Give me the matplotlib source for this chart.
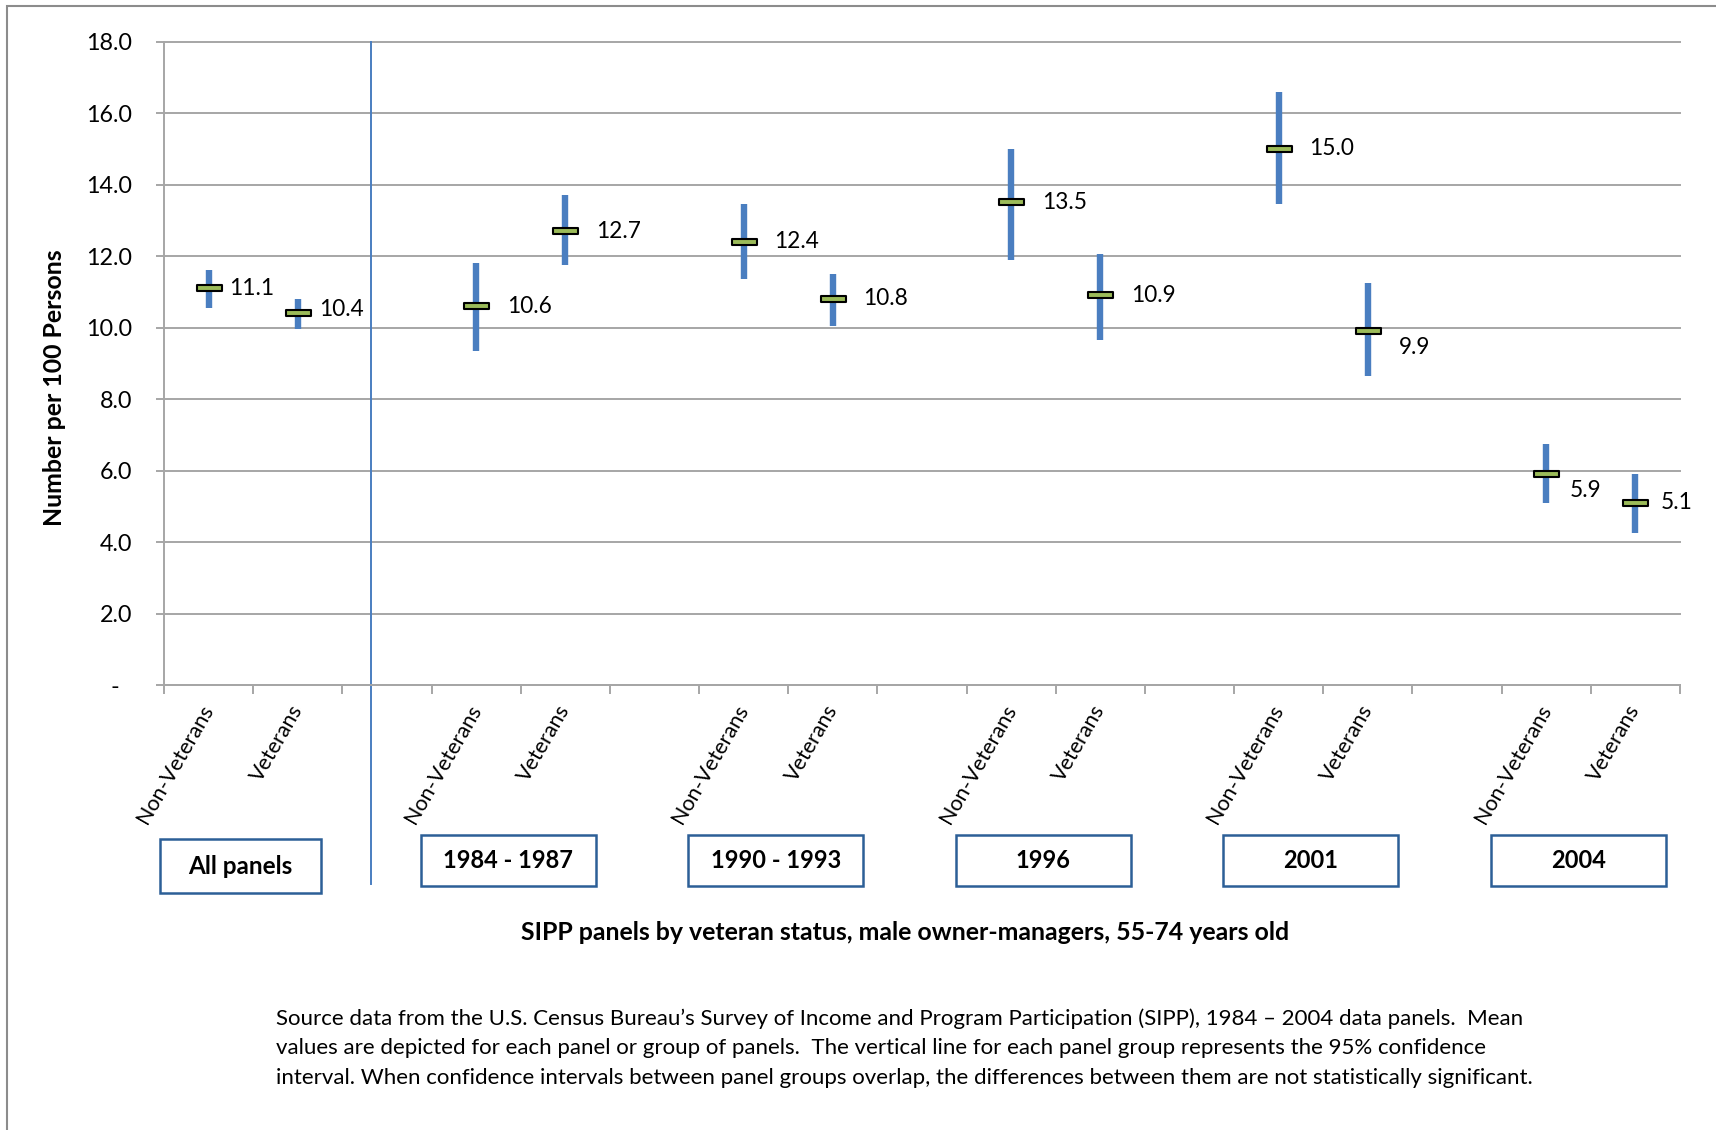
import numpy as np
import matplotlib
matplotlib.use("Agg")
import matplotlib.pyplot as plt
from matplotlib.patches import Rectangle
from matplotlib.path import Path
from matplotlib.transforms import blended_transform_factory

plt.rcParams['font.family'] = ['Lato', 'DejaVu Sans']

# data
groups = ['All panels', '1984 - 1987', '1990 - 1993', '1996', '2001', '2004']
status = ['Non-Veterans', 'Veterans']
means = [11.1, 10.4, 10.6, 12.7, 12.4, 10.8, 13.5, 10.9, 15.0, 9.9, 5.9, 5.1]
ci_low = [10.55, 9.95, 9.35, 11.75, 11.35, 10.05, 11.9, 9.65, 13.45, 8.65, 5.1, 4.25]
ci_high = [11.6, 10.8, 11.8, 13.7, 13.45, 11.5, 15.0, 12.05, 16.6, 11.25, 6.75, 5.9]
y_ticks = [0, 2, 4, 6, 8, 10, 12, 14, 16, 18]
y_tick_labels = ['-  ', '2.0', '4.0', '6.0', '8.0', '10.0', '12.0', '14.0', '16.0', '18.0']

x_title = 'SIPP panels by veteran status, male owner-managers, 55-74 years old'
y_title = 'Number per 100 Persons'
note = ['Source data from the U.S. Census Bureau\u2019s Survey of Income and Program Participation (SIPP), 1984 \u2013 2004 data panels.  Mean',
        'values are depicted for each panel or group of panels.  The vertical line for each panel group represents the 95% confidence',
        'interval. When confidence intervals between panel groups overlap, the differences between them are not statistically significant.']

# label nudges (points) for the value labels
label_dx = [15, 15, 22, 22, 22, 22, 22, 22, 22, 22, 17, 18]
label_dy = [0, 3, 0, 0, 0, 0, 0, 0, 0, -12, -12, 0]

blue = '#4A7EC0'
green = '#9BBB59'
grid_gray = '#A6A6A6'

# x positions: 3 slots per group, third slot left empty
xpos = []
for g in range(len(groups)):
    for s in range(len(status)):
        xpos.append(3 * g + s)
xpos = np.array(xpos)

fig = plt.figure(figsize=(17.16, 11.30), dpi=100)
ax = fig.add_axes([164 / 1716, 1 - 685 / 1130, 1516 / 1716, 643.4 / 1130])

ax.set_xlim(-0.5, 16.5)
ax.set_ylim(0, 18)

ax.vlines(xpos, ci_low, ci_high, colors=blue, linewidth=4.6, zorder=3)
rect = Path([(-1, -0.25), (1, -0.25), (1, 0.25), (-1, 0.25), (-1, -0.25)],
            [Path.MOVETO, Path.LINETO, Path.LINETO, Path.LINETO, Path.CLOSEPOLY])
ax.plot(xpos, means, linestyle='none', marker=rect, markersize=18,
        markerfacecolor=green, markeredgecolor='black', markeredgewidth=1.5, zorder=4)

for i in range(len(means)):
    ax.annotate(f'{means[i]:.1f}', xy=(xpos[i], means[i]),
                xytext=(label_dx[i], label_dy[i]), textcoords='offset points',
                ha='left', va='center', fontsize=16.3, color='black')

# axes styling
ax.set_yticks(y_ticks)
ax.set_yticklabels(y_tick_labels, fontsize=16.8)
ax.yaxis.grid(True, color=grid_gray, linewidth=1.4)
ax.set_axisbelow(True)
for sp in ['top', 'right']:
    ax.spines[sp].set_visible(False)
for sp in ['left', 'bottom']:
    ax.spines[sp].set_color(grid_gray)
    ax.spines[sp].set_linewidth(1.4)
ax.tick_params(axis='y', length=6, width=1.4, color=grid_gray, pad=17)
ax.set_xticks(np.arange(-0.5, 17, 1))
ax.set_xticklabels([])
ax.tick_params(axis='x', length=6.5, width=1.4, color=grid_gray)
for gl in ax.get_ygridlines():
    gl.set_clip_on(False)

# category labels
for i in range(len(xpos)):
    ax.annotate(status[i % 2], xy=(xpos[i], 0), xycoords=('data', 'axes fraction'),
                xytext=(-6, -12), textcoords='offset points',
                rotation=60, rotation_mode='anchor', ha='right', va='top', fontsize=15.5)

trans = blended_transform_factory(ax.transData, ax.transAxes)

# divider line between "All panels" and the single panels
ax.plot([1.82, 1.82], [1, -0.309], transform=trans, color=blue, linewidth=1.4, clip_on=False)

# group boxes
for g in range(len(groups)):
    cx = 3 * g + 0.5 - 0.14
    if g == 0:
        w, top, bot = 1.8, -0.240, -0.324
    else:
        w, top, bot = 1.96, -0.233, -0.3125
    ax.add_patch(Rectangle((cx - w / 2, bot), w, top - bot, transform=trans,
                           fill=False, edgecolor='#2C5F97', linewidth=1.8, clip_on=False))
    ax.text(cx, (top + bot) / 2, groups[g], transform=trans, ha='center', va='center',
            fontsize=17.5 if g == 0 else 17, fontweight='bold')

fig.text(905 / 1716, 1 - 933 / 1130, x_title, ha='center', va='center',
         fontsize=17.9, fontweight='bold')
fig.text(55 / 1716, 1 - 388 / 1130, y_title, rotation=90, ha='center', va='center',
         fontsize=17.9, fontweight='bold')

for k, line in enumerate(note):
    fig.text(276 / 1716, 1 - (1019 + 29.5 * k) / 1130, line, ha='left', va='center', fontsize=16)

# outer chart border
fig.patches.append(Rectangle((6.5 / 1716, -0.05), 1.2, 1 - 6 / 1130 + 0.05,
                             transform=fig.transFigure, fill=False,
                             edgecolor='#8C8C8C', linewidth=1.5))

fig.savefig('out.png', dpi=100)
